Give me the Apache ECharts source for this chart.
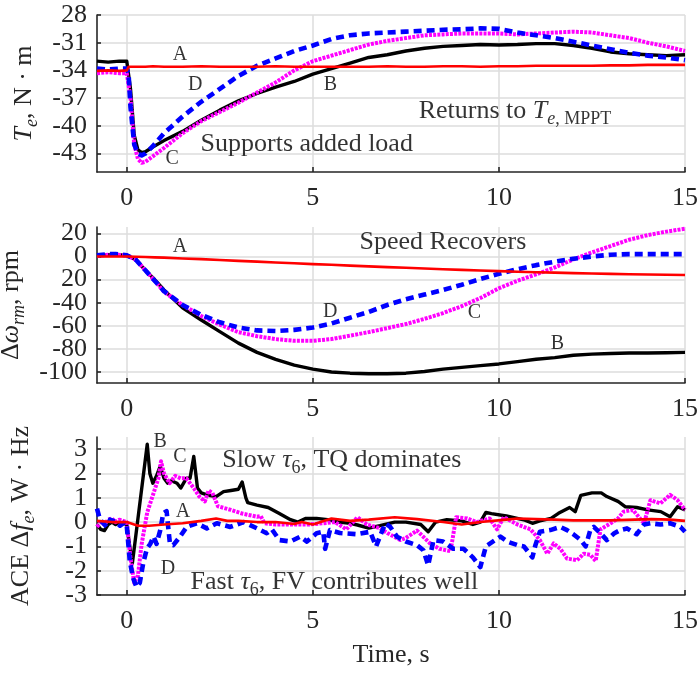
<!DOCTYPE html>
<html><head><meta charset="utf-8">
<script src="https://cdn.jsdelivr.net/npm/echarts@6/dist/echarts.min.js"></script>
<style>html,body{margin:0;padding:0;background:#fff}#c{width:697px;height:673px}</style>
</head><body><div id="c"></div>
<script>
// ---------- tick labels ----------
const xTicks = [0, 5, 10, 15];
const xTickLabels = ['0', '5', '10', '15'];
const topTicks = [-43, -40, -37, -34, -31, -28];
const topTickLabels = ['-43', '-40', '-37', '-34', '-31', '28'];
const midTicks = [-100, -80, -60, -40, -20, 0, 20];
const midTickLabels = ['-100', '-80', '-60', '-40', '20', '0', '20'];
const botTicks = [-3, -2, -1, 0, 1, 2, 3];
const botTickLabels = ['-3', '-2', '-1', '0', '1', '2', '3'];

// ---------- top: torque Te (N*m) ----------
const tTq = [-0.8,-0.5,-0.2,0,0.05,0.1,0.2,0.3,0.4,0.5,0.7,1,1.5,2,2.5,3,3.5,4,4.5,5,5.5,6,6.5,7,7.5,8,8.5,9,9.5,10,10.5,11,11.5,12,12.5,13,13.5,14,14.5,15];
const tqA = [-34.05,-34.0,-34.05,-34.0,-33.6,-33.55,-33.6,-33.6,-33.6,-33.6,-33.55,-33.6,-33.6,-33.55,-33.6,-33.6,-33.6,-33.55,-33.6,-33.6,-33.6,-33.6,-33.6,-33.55,-33.6,-33.6,-33.55,-33.55,-33.6,-33.55,-33.55,-33.5,-33.5,-33.5,-33.5,-33.45,-33.45,-33.4,-33.4,-33.4];
const tqB = [-33.0,-33.1,-33.0,-33.0,-33.2,-36.0,-41.0,-42.6,-42.9,-42.8,-42.3,-41.6,-40.6,-39.4,-38.3,-37.3,-36.5,-35.8,-35.2,-34.4,-33.8,-33.2,-32.6,-32.3,-31.9,-31.6,-31.4,-31.3,-31.2,-31.25,-31.2,-31.1,-31.1,-31.3,-31.6,-32.0,-32.2,-32.3,-32.4,-32.3];
const tqC = [-34.3,-34.2,-34.3,-34.3,-34.4,-37.0,-42.0,-43.6,-44.0,-43.9,-43.3,-42.4,-40.8,-39.5,-38.5,-37.5,-36.4,-35.3,-34.0,-33.0,-32.4,-31.8,-31.2,-30.8,-30.5,-30.2,-30.1,-30.0,-30.0,-30.0,-30.1,-30.0,-29.9,-29.8,-29.9,-30.2,-30.5,-31.0,-31.4,-31.9];
const tqD = [-33.8,-33.9,-33.8,-33.8,-34.5,-38.0,-42.0,-43.0,-43.2,-43.0,-42.2,-40.8,-39.0,-37.4,-36.0,-34.6,-33.5,-32.7,-31.9,-31.3,-30.6,-30.2,-30.0,-29.9,-29.8,-29.7,-29.6,-29.55,-29.45,-29.5,-29.9,-30.2,-30.5,-30.9,-31.3,-31.7,-32.1,-32.4,-32.6,-32.9];

// ---------- middle: speed deviation (rpm) ----------
const tSp = [-0.8,-0.5,-0.3,0,0.25,0.5,0.75,1,1.5,2,2.5,3,3.5,4,4.5,5,5.5,6,6.5,7,7.5,8,8.5,9,9.5,10,10.5,11,11.5,12,12.5,13,13.5,14,14.5,15];
const spA = [0,0,0,0,-0.3,-0.5,-0.8,-1,-1.7,-2.3,-3,-3.8,-4.5,-5.2,-5.9,-6.6,-7.2,-7.9,-8.6,-9.2,-9.8,-10.4,-11,-11.6,-12.2,-12.7,-13.2,-13.6,-14,-14.4,-14.8,-15.1,-15.4,-15.6,-15.8,-16];
const spB = [0.5,1.5,1.5,1,-3,-12,-20,-29,-44.5,-55,-65,-75,-83,-89,-94,-97.5,-100,-101,-101.5,-101.5,-101,-99.5,-97.5,-96,-94.5,-93,-91,-89,-87.5,-85.5,-84.5,-84,-83.5,-83.5,-83.3,-83];
const spC = [0.5,1.5,1.5,1,-3,-12,-21,-30.5,-42,-51.5,-59,-65.5,-69,-71.5,-73,-73,-71.5,-68.5,-65.5,-62,-58.5,-54,-49,-43,-36,-27.5,-21,-15.5,-9.5,-2.5,3.5,9,14.5,18.5,21.5,24];
const spD = [1,2,2,1,-3,-12,-21,-30,-42,-50.5,-57,-61.5,-64,-64.5,-63.5,-61.5,-58,-53,-48,-42,-37,-33,-29,-24.5,-19.5,-15,-11,-7.5,-4.5,-2,0,1.5,2,2,2,2];

// ---------- bottom: ACE (W*Hz) ----------
const aceTA = [-0.8,-0.4,0,0.3,0.6,1.0,1.5,2.0,2.4,2.7,3.0,3.5,4.0,4.5,4.7,5.0,5.5,6.0,6.5,7.2,7.8,8.5,9.0,9.5,10.2,10.5,11.0,11.5,12.0,13.0,14.1,14.6,15.0];
const aceA = [0.05,0.0,0.0,-0.15,-0.15,-0.1,-0.05,0.05,0.15,0.05,0.05,0.0,0.0,-0.08,0.0,-0.1,0.15,0.05,0.1,0.2,0.12,0.0,-0.1,0.0,0.1,0.15,0.12,0.1,0.07,0.07,0.12,0.1,0.05];
const aceTB = [-0.8,-0.7,-0.6,-0.5,-0.4,-0.3,-0.2,-0.1,0,0.08,0.15,0.55,0.62,0.7,0.8,0.9,1.0,1.1,1.2,1.35,1.45,1.6,1.7,1.8,1.9,2.0,2.2,2.4,2.6,2.8,3.0,3.1,3.2,3.25,3.5,3.8,4.1,4.4,4.6,4.8,5.1,5.4,5.7,6.0,6.2,6.5,6.8,7.2,7.5,7.9,8.1,8.3,8.6,9.0,9.3,9.5,9.65,9.8,10.2,10.7,10.9,11.1,11.4,11.6,11.9,12.05,12.2,12.5,12.75,12.9,13.2,13.4,13.7,14.0,14.35,14.6,14.8,15.0];
const aceB = [-0.1,-0.3,-0.35,-0.1,0.0,-0.1,0.0,-0.05,-0.1,-1.0,-1.7,3.2,2.0,1.6,1.9,2.3,1.8,1.6,1.7,1.6,1.4,1.8,1.8,2.7,1.4,1.2,1.1,1.05,1.25,1.3,1.35,1.65,1.0,0.8,0.7,0.6,0.35,0.1,0.0,0.15,0.15,0.1,0.0,-0.05,-0.12,-0.25,-0.15,0.0,0.0,-0.1,-0.4,0.0,0.1,0.05,-0.1,0.0,0.4,0.35,0.25,0.08,-0.05,0.05,0.15,0.36,0.6,0.43,1.1,1.2,1.2,1.05,0.85,0.63,0.6,0.5,0.43,0.22,0.63,0.5];
const aceTC = [-0.8,-0.7,-0.6,-0.5,-0.4,-0.3,-0.2,-0.1,0,0.1,0.2,0.3,0.4,0.55,0.7,0.85,0.92,1.0,1.15,1.3,1.45,1.6,1.8,1.95,2.1,2.2,2.3,2.45,2.8,3.1,3.5,3.6,3.7,4.0,4.4,4.9,5.25,5.6,5.9,6.2,6.45,6.8,7.0,7.35,7.5,7.8,8.15,8.4,8.7,8.85,9.15,9.4,9.75,9.95,10.13,10.5,10.85,11.1,11.3,11.47,11.65,11.83,12.1,12.28,12.46,12.6,12.73,13.0,13.2,13.35,13.6,13.9,14.07,14.34,14.6,14.8,15.0];
const aceC = [-0.2,0.0,-0.1,0.1,0.15,0.0,0.1,0.05,0.0,-1.5,-2.5,-2.2,-0.9,0.4,1.1,1.8,2.5,2.0,1.6,1.9,1.8,1.8,1.4,1.05,0.85,1.3,1.2,0.65,0.5,0.35,0.22,0.25,-0.05,-0.1,-0.1,-0.1,-0.05,0.0,-0.3,0.2,-0.1,-0.25,-0.45,-0.74,-0.65,-0.35,-0.88,-1.1,-1.2,0.2,0.15,0.0,0.15,-0.3,0.2,-0.1,-0.3,-0.74,-1.3,-0.88,-1.1,-1.5,-1.57,-1.3,-1.35,-1.6,-0.3,-0.05,0.15,0.43,0.5,-0.05,0.9,0.77,1.12,0.9,0.5];
const aceTD = [-0.8,-0.72,-0.6,-0.54,-0.45,-0.36,-0.25,-0.18,-0.05,0,0.08,0.17,0.26,0.35,0.44,0.54,0.63,0.72,0.8,0.9,0.98,1.07,1.16,1.25,1.43,1.61,1.88,2.15,2.42,2.78,3.14,3.5,3.76,3.9,4.1,4.4,4.66,4.84,5.1,5.28,5.33,5.46,5.73,6.18,6.54,6.7,6.8,6.95,7.08,7.26,7.5,7.8,7.97,8.1,8.24,8.5,8.78,9.05,9.3,9.5,9.65,9.9,10.04,10.22,10.5,10.67,10.9,10.98,11.1,11.38,11.65,11.83,12.0,12.2,12.33,12.46,12.55,12.73,12.9,13.1,13.26,13.44,13.7,13.9,14.07,14.34,14.6,14.88,15.0];
const aceD = [0.55,0.1,-0.1,-0.2,0.1,0.05,-0.05,-0.15,0.0,-0.16,-1.6,-2.3,-2.67,-2.5,-1.7,-1.1,-0.9,-0.6,-0.9,-0.33,0.36,0.45,-0.9,-0.95,-0.6,-0.2,-0.05,-0.26,-0.05,-0.2,0.0,-0.26,-0.46,-0.3,-0.74,-0.8,-0.6,-0.8,-0.46,-0.4,-1.1,-0.33,-0.45,-0.5,-0.4,-1.0,-0.6,-0.05,-0.2,-0.6,-0.8,-0.95,-1.16,-1.78,-0.74,-0.8,-1.1,-1.1,-1.45,-1.85,-1.0,-0.74,-0.6,-0.8,-0.95,-1.0,-1.45,-0.95,-0.4,-0.33,-0.2,-0.33,-0.5,-0.74,-1.0,-0.3,-0.2,-0.46,-0.74,-0.46,-0.33,-0.26,-0.5,-0.1,-0.05,-0.1,-0.05,-0.2,-0.4];

// ---------- annotations (data coordinates) ----------
const topLetters = ['A', 'D', 'B', 'C'];
const topLetterX = [1.43, 1.84, 5.47, 1.22];
const topLetterY = [-32.35, -35.6, -35.6, -43.55];
const topNotes = ['{n|Supports added load}', '{n|Returns to }{it|T}{sub|e}{subn|, MPPT}'];
const topNoteX = [1.97, 7.83];
const topNoteY = [-41.95, -38.45];
const midLetters = ['A', 'D', 'C', 'B'];
const midLetterX = [1.43, 5.47, 9.34, 11.57];
const midLetterY = [8.7, -47.8, -48.7, -75.7];
const midNotes = ['{n|Speed Recovers}'];
const midNoteX = [6.24];
const midNoteY = [12.1];
const botLetters = ['B', 'C', 'A', 'D'];
const botLetterX = [0.9, 1.43, 1.51, 1.11];
const botLetterY = [3.3, 2.68, 0.41, -1.94];
const botNotes = ['{n|Slow }{it|τ}{subn|6}{n|, TQ dominates}', '{n|Fast }{it|τ}{subn|6}{n|, FV contributes well}'];
const botNoteX = [2.55, 1.70];
const botNoteY = [2.54, -2.48];

// ---------- styling ----------
const FF = "'Liberation Serif','Times New Roman',Times,serif";
const TXT = '#262626';
const GRIDC = '#dcdcdc';
const FS = 26;
const rich = {
  n:    { fontFamily: FF, fontSize: FS, color: '#000', lineHeight: 34 },
  it:   { fontFamily: FF, fontSize: FS, color: '#000', fontStyle: 'italic', lineHeight: 34 },
  sub:  { fontFamily: FF, fontSize: 18, color: '#000', fontStyle: 'italic', verticalAlign: 'bottom', lineHeight: 18 },
  subn: { fontFamily: FF, fontSize: 18, color: '#000', verticalAlign: 'bottom', lineHeight: 18 }
};
const richAxis = {};
Object.keys(rich).forEach(k => { richAxis[k] = Object.assign({}, rich[k], { color: TXT }); });

const zip = (t, v) => t.map((x, i) => [x, v[i]]);
const pick = (ticks, labels) => v => {
  const k = ticks.findIndex(t => Math.abs(t - v) < 1e-9);
  return k >= 0 ? labels[k] : '';
};

const grids = [
  { left: 97, right: 12, top: 15, height: 157 },
  { left: 97, right: 12, top: 227, height: 156 },
  { left: 97, right: 12, top: 437, height: 158 }
].map(g => Object.assign({ outerBoundsMode: 'none', containLabel: false }, g));

function xAx(i) {
  const ax = {
    type: 'value', gridIndex: i, min: -0.8, max: 15,
    axisLine: { show: true, onZero: false, lineStyle: { color: TXT, width: 1.6 } },
    axisTick: { show: true, inside: true, length: 5, customValues: xTicks, lineStyle: { color: TXT, width: 1.6 } },
    axisLabel: { customValues: xTicks, formatter: pick(xTicks, xTickLabels), fontFamily: FF, fontSize: FS, color: TXT, margin: 13,
                 showMinLabel: true, showMaxLabel: true, hideOverlap: false },
    splitLine: { show: true, lineStyle: { color: GRIDC, width: 1.5 } }
  };
  if (i === 2) {
    ax.name = 'Time, s';
    ax.nameLocation = 'middle';
    ax.nameGap = 47;
    ax.nameTextStyle = { fontFamily: FF, fontSize: FS, color: TXT };
  }
  return ax;
}
// main y axis: line, ticks, grid, name and every other tick label
function yAx(i, min, max, ticks, labels, name, gap) {
  const even = ticks.filter((_, k) => k % 2 === 0);
  return {
    type: 'value', gridIndex: i, min: min, max: max,
    axisLine: { show: true, onZero: false, lineStyle: { color: TXT, width: 1.6 } },
    axisTick: { show: true, inside: true, length: 4, customValues: ticks, lineStyle: { color: TXT, width: 1.6 } },
    axisLabel: { customValues: even, formatter: pick(ticks, labels), fontFamily: FF, fontSize: FS, color: TXT, margin: 10,
                 showMinLabel: true, showMaxLabel: true, hideOverlap: false },
    splitLine: { show: true, lineStyle: { color: GRIDC, width: 1.5 } },
    name: name, nameLocation: 'middle', nameRotate: 90, nameGap: gap,
    nameTextStyle: { rich: richAxis, fontFamily: FF, fontSize: FS, color: TXT }
  };
}
// companion y axis on the same grid carrying the remaining tick labels
function yAxAlt(i, min, max, ticks, labels) {
  const odd = ticks.filter((_, k) => k % 2 === 1);
  return {
    type: 'value', gridIndex: i, min: min, max: max, position: 'left', offset: 0,
    axisLine: { show: false, onZero: false },
    axisTick: { show: false, customValues: odd },
    axisLabel: { customValues: odd, formatter: pick(ticks, labels), fontFamily: FF, fontSize: FS, color: TXT, margin: 10,
                 showMinLabel: true, showMaxLabel: true, hideOverlap: false },
    splitLine: { show: false }
  };
}

const sty = {
  A: { color: '#ff0000', width: 2.6, type: 'solid' },
  B: { color: '#000000', width: 3.4, type: 'solid' },
  C: { color: '#ff00ff', width: 4, type: [3, 1.2] },
  D: { color: '#0000ff', width: 4.6, type: [8, 5] }
};
function line(i, key, t, v, z) {
  return {
    type: 'line', xAxisIndex: i, yAxisIndex: i, data: zip(t, v),
    showSymbol: false, symbol: 'none', silent: true, z: z,
    lineStyle: Object.assign({ cap: 'butt', join: 'round' }, sty[key])
  };
}
function ann(i, texts, xs, ys, mode) {
  return {
    type: 'scatter', xAxisIndex: i, yAxisIndex: i, silent: true, z: 20,
    symbolSize: 1, itemStyle: { color: 'rgba(0,0,0,0)' },
    data: texts.map((s, k) => ({ name: s, value: [xs[k], ys[k]] })),
    label: mode === 'letter'
      ? { show: true, position: 'inside', formatter: p => p.name, fontFamily: FF, fontSize: 20, color: '#000' }
      : { show: true, position: 'right', distance: 0, formatter: p => p.name, rich: rich, fontFamily: FF, fontSize: FS, color: '#000' }
  };
}

const chart = echarts.init(document.getElementById('c'), null, { renderer: 'canvas' });
chart.setOption({
  animation: false,
  backgroundColor: '#ffffff',
  grid: grids,
  xAxis: [xAx(0), xAx(1), xAx(2)],
  yAxis: [
    yAx(0, -45, -28, topTicks, topTickLabels, '{it|T}{sub|e}{n|, N · m}', 54),
    yAx(1, -109.5, 25.5, midTicks, midTickLabels, '{n|Δ}{it|ω}{sub|rm}{n|, rpm}', 54),
    yAx(2, -3, 3.5, botTicks, botTickLabels, '{n|ACE Δ}{it|f}{sub|e}{n|, W · Hz}', 59),
    yAxAlt(0, -45, -28, topTicks, topTickLabels),
    yAxAlt(1, -109.5, 25.5, midTicks, midTickLabels),
    yAxAlt(2, -3, 3.5, botTicks, botTickLabels)
  ],
  series: [
    line(0, 'B', tTq, tqB, 2), line(0, 'C', tTq, tqC, 3), line(0, 'D', tTq, tqD, 4), line(0, 'A', tTq, tqA, 5),
    line(1, 'B', tSp, spB, 2), line(1, 'C', tSp, spC, 3), line(1, 'D', tSp, spD, 4), line(1, 'A', tSp, spA, 5),
    line(2, 'B', aceTB, aceB, 2), line(2, 'C', aceTC, aceC, 3), line(2, 'D', aceTD, aceD, 4), line(2, 'A', aceTA, aceA, 5),
    ann(0, topLetters, topLetterX, topLetterY, 'letter'),
    ann(0, topNotes, topNoteX, topNoteY, 'note'),
    ann(1, midLetters, midLetterX, midLetterY, 'letter'),
    ann(1, midNotes, midNoteX, midNoteY, 'note'),
    ann(2, botLetters, botLetterX, botLetterY, 'letter'),
    ann(2, botNotes, botNoteX, botNoteY, 'note')
  ]
});
</script></body></html>
